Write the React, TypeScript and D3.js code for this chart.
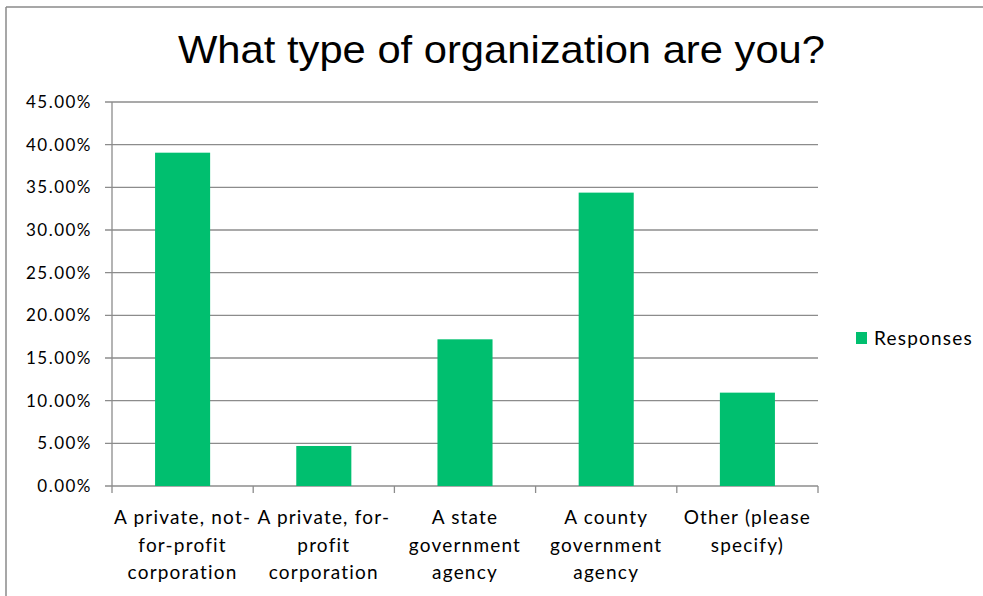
import React from "react";
import * as d3 from "d3";

const categories = [
  "A private, not-for-profit corporation",
  "A private, for-profit corporation",
  "A state government agency",
  "A county government agency",
  "Other (please specify)",
];
const categoryLines = [
  ["A private, not-", "for-profit", "corporation"],
  ["A private, for-", "profit", "corporation"],
  ["A state", "government", "agency"],
  ["A county", "government", "agency"],
  ["Other (please", "specify)"],
];
const responses = [39.06, 4.69, 17.19, 34.38, 10.94];
const yTicks = [0, 5, 10, 15, 20, 25, 30, 35, 40, 45];
const seriesName = "Responses";
const title = "What type of organization are you?";

const W = 983;
const H = 596;
const left = 112;
const right = 818;
const top = 102;
const bottom = 486;
const green = "#00BF6F";
const gridColor = "#8c8c8c";
const bodyFont = "Lato, 'Open Sans', sans-serif";

export default function App() {
  const x = d3.scaleBand<string>().domain(categories).range([left, right]).paddingInner(0.61).paddingOuter(0.305);
  const xb = d3.scaleBand<string>().domain(categories).range([left, right]);
  const y = d3.scaleLinear().domain([0, 45]).range([bottom, top]);
  const fmt = (v: number) => v.toFixed(2) + "%";

  return (
    <svg width={W} height={H} style={{ position: "absolute", left: 0, top: 0, background: "#fff" }}>
      <rect x={0} y={0} width={W} height={H} fill="#fff" />
      <line x1={6} y1={7} x2={W} y2={7} stroke="#8a8a8a" strokeWidth={1.5} />
      <line x1={6} y1={7} x2={6} y2={H} stroke="#8a8a8a" strokeWidth={1.5} />
      <text x={178} y={63} textAnchor="start" fontFamily="'Liberation Sans', Arial, sans-serif" fontSize={39} fill="#000" textLength={647} lengthAdjust="spacingAndGlyphs">
        {title}
      </text>
      {yTicks.map((t) => (
        <g key={t}>
          <line x1={left - 7} x2={right} y1={y(t)} y2={y(t)} stroke={gridColor} strokeWidth={1.3} />
          <text x={92} y={y(t) + 6} textAnchor="end" fontFamily={bodyFont} fontSize={17} letterSpacing={1.5} fill="#000">
            {fmt(t)}
          </text>
        </g>
      ))}
      <line x1={left} x2={left} y1={top} y2={bottom + 7} stroke={gridColor} strokeWidth={1.3} />
      {categories.map((c) => (
        <line key={"t" + c} x1={(xb(c) as number) + xb.bandwidth()} x2={(xb(c) as number) + xb.bandwidth()} y1={bottom} y2={bottom + 7} stroke={gridColor} strokeWidth={1.3} />
      ))}
      {categories.map((c, i) => (
        <rect key={c} x={x(c)} y={y(responses[i])} width={x.bandwidth()} height={bottom - y(responses[i])} fill={green} />
      ))}
      {categories.map((c, i) => (
        <text key={"l" + c} textAnchor="middle" fontFamily={bodyFont} fontSize={19} letterSpacing={1.2} fill="#000">
          {categoryLines[i].map((ln, j) => (
            <tspan key={j} x={(xb(c) as number) + xb.bandwidth() / 2} y={524 + j * 27.7}>
              {ln}
            </tspan>
          ))}
        </text>
      ))}
      <rect x={856} y={332} width={11} height={12} fill={green} />
      <text x={874} y={345} fontFamily={bodyFont} fontSize={19} letterSpacing={1.2} fill="#000">
        {seriesName}
      </text>
    </svg>
  );
}
